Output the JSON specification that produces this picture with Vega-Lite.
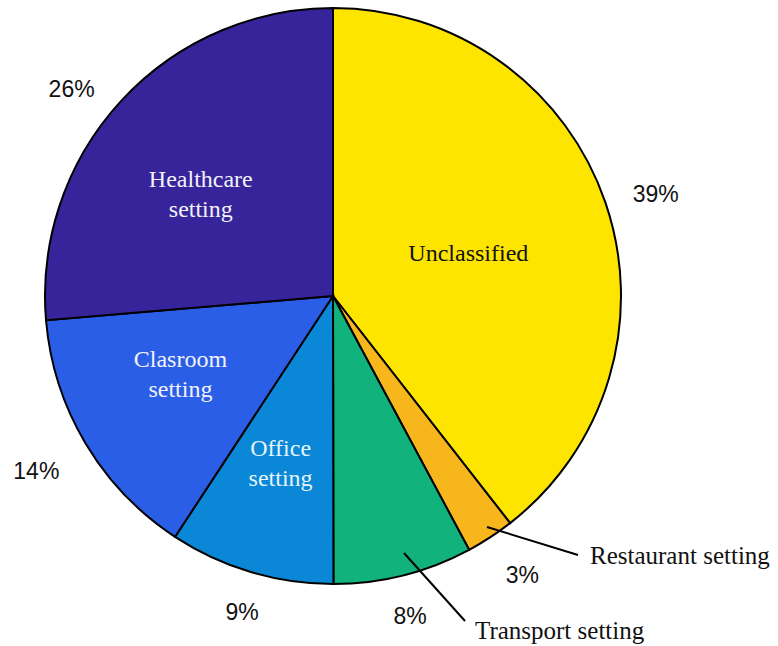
{
  "$schema": "https://vega.github.io/schema/vega-lite/v6.json",
  "width": 666,
  "height": 576,
  "autosize": "none",
  "padding": {"left": 0, "top": 8, "right": 112, "bottom": 62},
  "background": "white",
  "config": {"view": {"stroke": null}},
  "datasets": {
    "slices": [
      {"category": "Unclassified", "order": 1, "value": 39.4, "pct": "39%", "label": ["Unclassified"]},
      {"category": "Restaurant setting", "order": 2, "value": 2.7, "pct": "3%", "label": [""]},
      {"category": "Transport setting", "order": 3, "value": 7.8, "pct": "8%", "label": [""]},
      {"category": "Office setting", "order": 4, "value": 9.25, "pct": "9%", "label": ["Office", "setting"]},
      {"category": "Clasroom setting", "order": 5, "value": 14.4, "pct": "14%", "label": ["Clasroom", "setting"]},
      {"category": "Healthcare setting", "order": 6, "value": 26.3, "pct": "26%", "label": ["Healthcare", "setting"]}
    ],
    "leaders": [
      {"name": "Restaurant setting", "x1": 154, "y1": -231, "x2": 245, "y2": -259, "lx": 257, "ly": -260},
      {"name": "Transport setting", "x1": 71, "y1": -257, "x2": 132, "y2": -325, "lx": 142, "ly": -335}
    ]
  },
  "layer": [
    {
      "data": {"name": "slices"},
      "mark": {"type": "arc", "stroke": "black", "strokeWidth": 2},
      "encoding": {
        "theta": {"field": "value", "type": "quantitative", "stack": true},
        "order": {"field": "order", "type": "quantitative", "sort": "ascending"},
        "color": {
          "field": "category",
          "type": "nominal",
          "legend": null,
          "scale": {
            "domain": ["Unclassified", "Restaurant setting", "Transport setting", "Office setting", "Clasroom setting", "Healthcare setting"],
            "range": ["#fde500", "#f6b61c", "#12b27c", "#0a88d7", "#2a5ee6", "#37249a"]
          }
        }
      }
    },
    {
      "data": {"name": "slices"},
      "mark": {"type": "text", "radius": 141, "dx": 2, "dy": 4, "font": "Liberation Serif", "fontSize": 24, "align": "center", "baseline": "middle", "color": "#111111"},
      "encoding": {
        "theta": {"field": "value", "type": "quantitative", "stack": true},
        "order": {"field": "order", "type": "quantitative", "sort": "ascending"},
        "text": {"condition": {"test": "datum.category !== 'Unclassified'", "value": ""}, "field": "label", "type": "nominal"}
      }
    },
    {
      "data": {"name": "slices"},
      "mark": {"type": "text", "radius": 166, "dx": -10, "dy": -4, "font": "Liberation Serif", "fontSize": 24, "lineHeight": 30, "align": "center", "baseline": "middle", "color": "#f2f2fa"},
      "encoding": {
        "theta": {"field": "value", "type": "quantitative", "stack": true},
        "order": {"field": "order", "type": "quantitative", "sort": "ascending"},
        "text": {"condition": {"test": "datum.category !== 'Healthcare setting'", "value": ""}, "field": "label", "type": "nominal"}
      }
    },
    {
      "data": {"name": "slices"},
      "mark": {"type": "text", "radius": 166, "dx": -10, "dy": -21, "font": "Liberation Serif", "fontSize": 24, "lineHeight": 30, "align": "center", "baseline": "middle", "color": "#f2f2fa"},
      "encoding": {
        "theta": {"field": "value", "type": "quantitative", "stack": true},
        "order": {"field": "order", "type": "quantitative", "sort": "ascending"},
        "text": {"condition": {"test": "datum.category !== 'Clasroom setting'", "value": ""}, "field": "label", "type": "nominal"}
      }
    },
    {
      "data": {"name": "slices"},
      "mark": {"type": "text", "radius": 166, "dx": -5, "dy": -6, "font": "Liberation Serif", "fontSize": 24, "lineHeight": 30, "align": "center", "baseline": "middle", "color": "#e6f4fb"},
      "encoding": {
        "theta": {"field": "value", "type": "quantitative", "stack": true},
        "order": {"field": "order", "type": "quantitative", "sort": "ascending"},
        "text": {"condition": {"test": "datum.category !== 'Office setting'", "value": ""}, "field": "label", "type": "nominal"}
      }
    },
    {
      "data": {"name": "slices"},
      "mark": {"type": "text", "radius": 336, "dx": 5, "dy": 8, "font": "Liberation Sans", "fontSize": 23, "align": "center", "baseline": "middle", "color": "#111111"},
      "encoding": {
        "theta": {"field": "value", "type": "quantitative", "stack": true},
        "order": {"field": "order", "type": "quantitative", "sort": "ascending"},
        "text": {"condition": {"test": "datum.category !== 'Unclassified'", "value": ""}, "field": "pct", "type": "nominal"}
      }
    },
    {
      "data": {"name": "slices"},
      "mark": {"type": "text", "radius": 336, "dx": 6, "dy": -2, "font": "Liberation Sans", "fontSize": 23, "align": "center", "baseline": "middle", "color": "#111111"},
      "encoding": {
        "theta": {"field": "value", "type": "quantitative", "stack": true},
        "order": {"field": "order", "type": "quantitative", "sort": "ascending"},
        "text": {"condition": {"test": "datum.category !== 'Restaurant setting'", "value": ""}, "field": "pct", "type": "nominal"}
      }
    },
    {
      "data": {"name": "slices"},
      "mark": {"type": "text", "radius": 336, "dx": -5, "dy": -5, "font": "Liberation Sans", "fontSize": 23, "align": "center", "baseline": "middle", "color": "#111111"},
      "encoding": {
        "theta": {"field": "value", "type": "quantitative", "stack": true},
        "order": {"field": "order", "type": "quantitative", "sort": "ascending"},
        "text": {"condition": {"test": "datum.category !== 'Transport setting'", "value": ""}, "field": "pct", "type": "nominal"}
      }
    },
    {
      "data": {"name": "slices"},
      "mark": {"type": "text", "radius": 336, "dx": 5, "dy": -5, "font": "Liberation Sans", "fontSize": 23, "align": "center", "baseline": "middle", "color": "#111111"},
      "encoding": {
        "theta": {"field": "value", "type": "quantitative", "stack": true},
        "order": {"field": "order", "type": "quantitative", "sort": "ascending"},
        "text": {"condition": {"test": "datum.category !== 'Office setting'", "value": ""}, "field": "pct", "type": "nominal"}
      }
    },
    {
      "data": {"name": "slices"},
      "mark": {"type": "text", "radius": 336, "dx": -8, "dy": 4, "font": "Liberation Sans", "fontSize": 23, "align": "center", "baseline": "middle", "color": "#111111"},
      "encoding": {
        "theta": {"field": "value", "type": "quantitative", "stack": true},
        "order": {"field": "order", "type": "quantitative", "sort": "ascending"},
        "text": {"condition": {"test": "datum.category !== 'Clasroom setting'", "value": ""}, "field": "pct", "type": "nominal"}
      }
    },
    {
      "data": {"name": "slices"},
      "mark": {"type": "text", "radius": 336, "dx": -14, "dy": 21, "font": "Liberation Sans", "fontSize": 23, "align": "center", "baseline": "middle", "color": "#111111"},
      "encoding": {
        "theta": {"field": "value", "type": "quantitative", "stack": true},
        "order": {"field": "order", "type": "quantitative", "sort": "ascending"},
        "text": {"condition": {"test": "datum.category !== 'Healthcare setting'", "value": ""}, "field": "pct", "type": "nominal"}
      }
    },
    {
      "data": {"name": "leaders"},
      "mark": {"type": "rule", "stroke": "black", "strokeWidth": 2},
      "encoding": {
        "x": {"field": "x1", "type": "quantitative", "scale": {"domain": [-333, 333]}, "axis": null},
        "y": {"field": "y1", "type": "quantitative", "scale": {"domain": [-288, 288]}, "axis": null},
        "x2": {"field": "x2"},
        "y2": {"field": "y2"}
      }
    },
    {
      "data": {"name": "leaders"},
      "mark": {"type": "text", "font": "Liberation Serif", "fontSize": 25, "align": "left", "baseline": "middle", "color": "#111111"},
      "encoding": {
        "x": {"field": "lx", "type": "quantitative", "scale": {"domain": [-333, 333]}, "axis": null},
        "y": {"field": "ly", "type": "quantitative", "scale": {"domain": [-288, 288]}, "axis": null},
        "text": {"field": "name", "type": "nominal"}
      }
    }
  ]
}
